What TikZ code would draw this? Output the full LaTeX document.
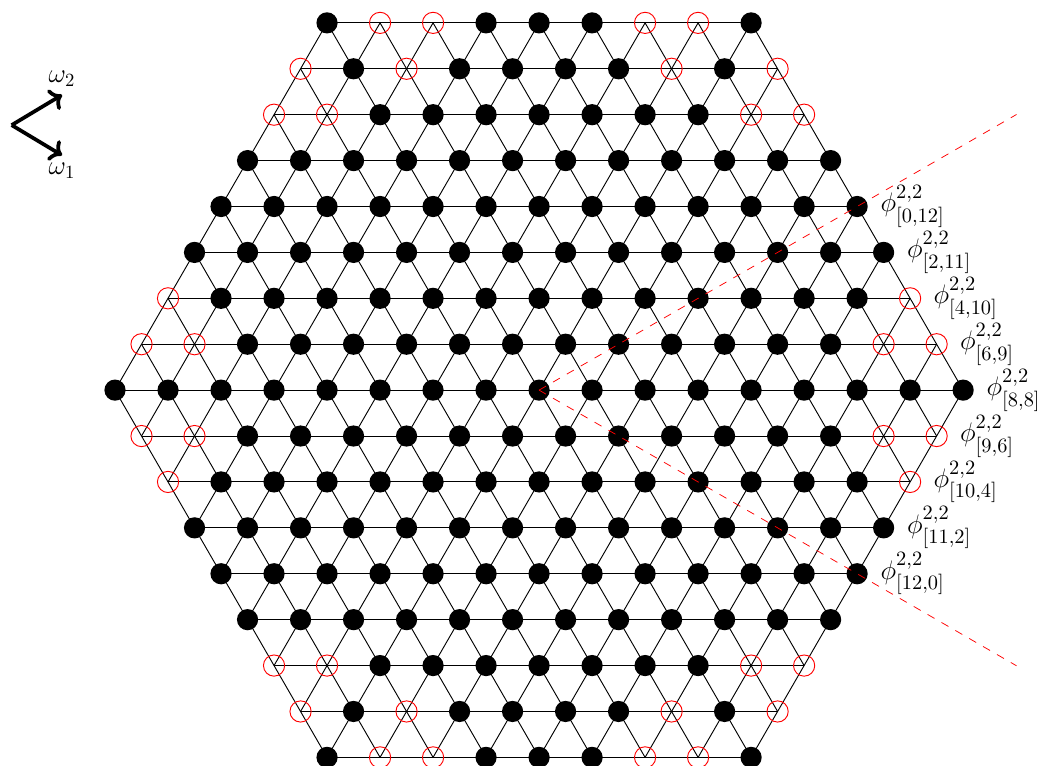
\documentclass[tikz,border=0pt]{standalone}
\usepackage{amsmath}
\usepackage{amssymb}
\usepackage{xcolor}
\usepackage{tikz}
\usetikzlibrary{arrows.meta}

\begin{document}
\begin{tikzpicture}[
		bond/.style={line width=0.5pt},
		hole/.style={red, line width=0.5pt},
		vec/.style={->, line width=2pt},
		lab/.style={right=0.32cm, font=\fontsize{15.5}{18}\selectfont},
		ray/.style={red, line width=0.4pt, dash pattern=on 4.3pt off 4.3pt}]
		\pgfmathsetmacro{\rad}{0.2}
		\pgfmathsetmacro{\hgt}{sqrt(3)/2}
		
		% 边界
		\useasboundingbox (-10.17,-7.075) rectangle (9.45,7.36);
		
		% 格点 (i,j) -> i*e1 + j*e2
		\foreach \i in {0,...,16}{
			\foreach \j in {0,...,16}{
				\pgfmathtruncatemacro{\s}{\i+\j}
				\ifnum\s>7 \ifnum\s<25
					\coordinate (v\i-\j) at ({\i-8+(\j-8)/2}, {(\j-8)*\hgt});
				\fi\fi
			}
		}
		
		% 连线
		\foreach \j in {0,...,16}{
			\pgfmathtruncatemacro{\ilo}{max(0,8-\j)}
			\pgfmathtruncatemacro{\ihi}{min(16,24-\j)}
			\draw[bond] (v\ilo-\j) -- (v\ihi-\j);
		}
		\foreach \i in {0,...,16}{
			\pgfmathtruncatemacro{\jlo}{max(0,8-\i)}
			\pgfmathtruncatemacro{\jhi}{min(16,24-\i)}
			\draw[bond] (v\i-\jlo) -- (v\i-\jhi);
		}
		\foreach \s in {8,...,24}{
			\pgfmathtruncatemacro{\ilo}{max(0,\s-16)}
			\pgfmathtruncatemacro{\ihi}{min(16,\s)}
			\pgfmathtruncatemacro{\jlo}{\s-\ilo}
			\pgfmathtruncatemacro{\jhi}{\s-\ihi}
			\draw[bond] (v\ilo-\jlo) -- (v\ihi-\jhi);
		}
		
		% 空心点
		\foreach \i/\j in {1/16,2/16,6/16,7/16, 0/15,2/15,7/15,9/15,
			0/14,1/14,9/14,10/14, 0/10,14/10, 0/9,1/9,14/9,15/9,
			1/7,2/7,15/7,16/7, 2/6,16/6, 6/2,7/2,15/2,16/2,
			7/1,9/1,14/1,16/1, 9/0,10/0,14/0,15/0}
			{\expandafter\gdef\csname red\i-\j\endcsname{}}
		
		% 标点
		\foreach \i in {0,...,16}{
			\foreach \j in {0,...,16}{
				\pgfmathtruncatemacro{\s}{\i+\j}
				\ifnum\s>7 \ifnum\s<25
					\ifcsname red\i-\j\endcsname
						\draw[hole] (v\i-\j) circle (\rad);
					\else
						\fill (v\i-\j) circle (\rad);
					\fi
				\fi\fi
			}
		}
		
		% 射线
		\coordinate (rA) at (30:10.4);
		\coordinate (rB) at (-30:10.4);
		\draw[ray] (v8-8) -- (rA);
		\draw[ray] (v8-8) -- (rB);
		
		% 标签
		\foreach \i/\j/\idx in {12/12/{0,12}, 13/11/{2,11}, 14/10/{4,10},
			15/9/{6,9}, 16/8/{8,8}, 16/7/{9,6}, 16/6/{10,4},
			16/5/{11,2}, 16/4/{12,0}}
			\node[lab] (phi\j) at (v\i-\j) {$\phi^{2,2}_{[\idx]}$};
		
		% 基向量
		\coordinate (o) at (-9.95,5.0);
		\coordinate (w1) at (-9.0,4.43);
		\coordinate (w2) at (-9.0,5.57);
		\draw[vec] (o) -- (w2) node[above, font=\Large] (lw2) {$\omega_2$};
		\draw[vec] (o) -- (w1) node[below, font=\Large] (lw1) {$\omega_1$};
	\end{tikzpicture}
\end{document}
